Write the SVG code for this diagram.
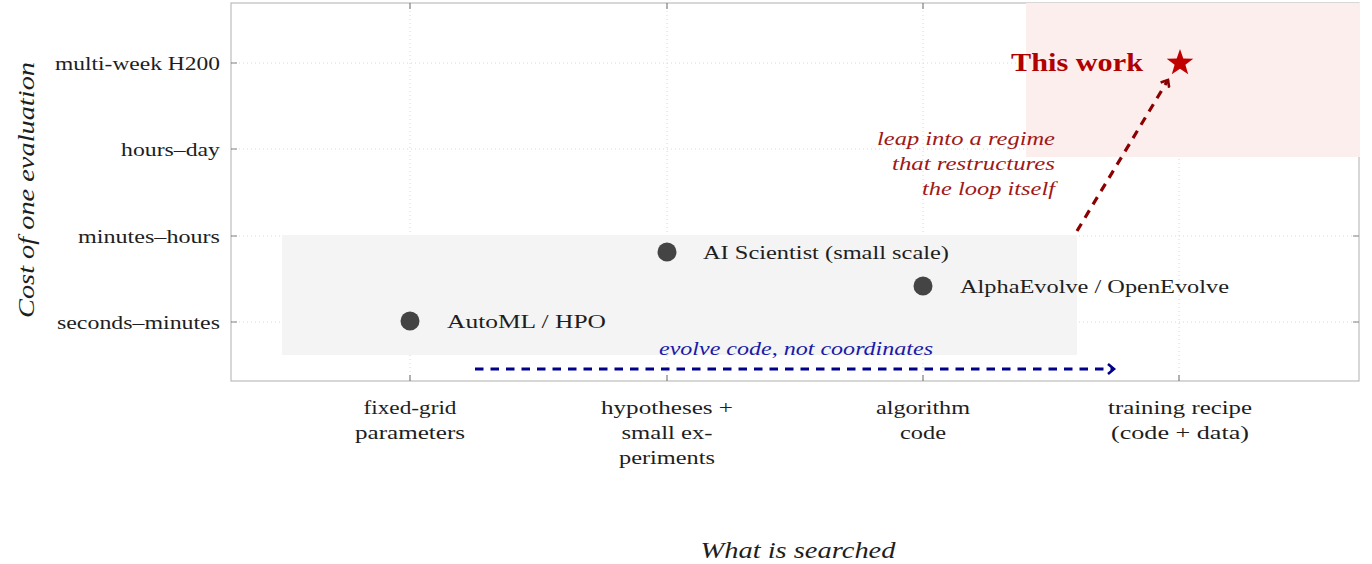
<svg xmlns="http://www.w3.org/2000/svg" width="1372" height="564" viewBox="0 0 1372 564">
<style>
text{font-family:"Liberation Serif","Times New Roman",serif;fill:#1e1e1e}
.tl{font-size:19px;text-anchor:end}
.xl{font-size:19px;text-anchor:middle}
.pl{font-size:19px}
.grid{stroke:#d8d8d8;stroke-width:1;stroke-dasharray:1 3;fill:none}
.tick{stroke:#808080;stroke-width:1.2}
.ann{font-size:18px;font-style:italic;fill:#a01818;text-anchor:end}
.dot{fill:#444}
</style>
<defs>
<marker id="ab" markerWidth="12" markerHeight="12" refX="9" refY="6" orient="auto" markerUnits="userSpaceOnUse"><path d="M3,1 L9,6 L3,11" fill="none" stroke="#00008b" stroke-width="2.6"/></marker>
<marker id="ar" markerWidth="12" markerHeight="12" refX="9" refY="6" orient="auto" markerUnits="userSpaceOnUse"><path d="M3,1 L9,6 L3,11" fill="none" stroke="#8b0000" stroke-width="2.6"/></marker>
</defs>
<rect width="1372" height="564" fill="#fff"/>
<g id="grid">
<line class="grid" x1="231" y1="63" x2="1359" y2="63"/>
<line class="grid" x1="231" y1="149" x2="1359" y2="149"/>
<line class="grid" x1="231" y1="236" x2="1359" y2="236"/>
<line class="grid" x1="231" y1="322" x2="1359" y2="322"/>
<line class="grid" x1="410" y1="3" x2="410" y2="381"/>
<line class="grid" x1="667" y1="3" x2="667" y2="381"/>
<line class="grid" x1="923" y1="3" x2="923" y2="381"/>
<line class="grid" x1="1179" y1="3" x2="1179" y2="381"/>
</g>
<g id="axes">
<rect x="231" y="3" width="1128" height="378" fill="none" stroke="#bdbdbd" stroke-width="1.2"/>
<path class="tick" d="M231,63h6M231,149h6M231,236h6M231,322h6M1359,63h-6M1359,149h-6M1359,236h-6M1359,322h-6M410,381v-6M667,381v-6M923,381v-6M1179,381v-6M410,3v6M667,3v6M923,3v6M1179,3v6"/>
</g>
<g id="regions">
<rect id="region-existing" x="282" y="235" width="795" height="120" fill="#f4f4f4"/>
<rect id="region-thiswork" x="1026" y="3" width="334" height="154" fill="#fdeeee"/>
</g>
<g id="ytick-labels">
<text class="tl" x="220" y="70" textLength="165" lengthAdjust="spacingAndGlyphs">multi-week H200</text>
<text class="tl" x="220" y="156" textLength="99" lengthAdjust="spacingAndGlyphs">hours–day</text>
<text class="tl" x="220" y="243" textLength="142" lengthAdjust="spacingAndGlyphs">minutes–hours</text>
<text class="tl" x="220" y="329" textLength="163" lengthAdjust="spacingAndGlyphs">seconds–minutes</text>
</g>
<g id="xtick-labels">
<text class="xl" x="410" y="414" textLength="93" lengthAdjust="spacingAndGlyphs">fixed-grid</text>
<text class="xl" x="410" y="439" textLength="110" lengthAdjust="spacingAndGlyphs">parameters</text>
<text class="xl" x="667" y="414" textLength="132" lengthAdjust="spacingAndGlyphs">hypotheses +</text>
<text class="xl" x="667" y="439" textLength="91" lengthAdjust="spacingAndGlyphs">small ex-</text>
<text class="xl" x="667" y="464" textLength="96" lengthAdjust="spacingAndGlyphs">periments</text>
<text class="xl" x="923" y="414" textLength="94" lengthAdjust="spacingAndGlyphs">algorithm</text>
<text class="xl" x="923" y="439" textLength="46" lengthAdjust="spacingAndGlyphs">code</text>
<text class="xl" x="1180" y="414" textLength="144" lengthAdjust="spacingAndGlyphs">training recipe</text>
<text class="xl" x="1180" y="439" textLength="138" lengthAdjust="spacingAndGlyphs">(code + data)</text>
</g>
<g id="axis-titles">
<text x="798" y="558" font-size="23" font-style="italic" text-anchor="middle" textLength="195" lengthAdjust="spacingAndGlyphs">What is searched</text>
<text transform="translate(34,190) rotate(-90)" font-size="23" font-style="italic" text-anchor="middle" textLength="256" lengthAdjust="spacingAndGlyphs">Cost of one evaluation</text>
</g>
<g id="node-automl">
<circle class="dot" cx="410" cy="321" r="9.5"/>
<text class="pl" x="447" y="328" textLength="159" lengthAdjust="spacingAndGlyphs">AutoML / HPO</text>
</g>
<g id="node-aiscientist">
<circle class="dot" cx="667" cy="252" r="9.5"/>
<text class="pl" x="703" y="259" textLength="246" lengthAdjust="spacingAndGlyphs">AI Scientist (small scale)</text>
</g>
<g id="node-alphaevolve">
<circle class="dot" cx="923" cy="286" r="9.5"/>
<text class="pl" x="960" y="293" textLength="269" lengthAdjust="spacingAndGlyphs">AlphaEvolve / OpenEvolve</text>
</g>
<g id="node-thiswork">
<path d="M1180,49 L1183.3,58.4 L1193.3,58.7 L1185.4,64.8 L1188.2,74.3 L1180,68.7 L1171.8,74.3 L1174.6,64.8 L1166.7,58.7 L1176.7,58.4 Z" fill="#c00000"/>
<text x="1143" y="71" font-size="25" font-weight="bold" style="fill:#b00000" text-anchor="end" textLength="132" lengthAdjust="spacingAndGlyphs">This work</text>
</g>
<g id="connectors">
<line x1="475" y1="369" x2="1114" y2="369" stroke="#00008b" stroke-width="3" stroke-dasharray="8.5 7" marker-end="url(#ab)"/>
<line x1="1077" y1="231" x2="1168" y2="80" stroke="#8b0000" stroke-width="3.2" stroke-dasharray="8.5 7" marker-end="url(#ar)"/>
</g>
<g id="labels">
<text x="796" y="355" font-size="18" font-style="italic" text-anchor="middle" style="fill:#1a1aa8" textLength="274" lengthAdjust="spacingAndGlyphs">evolve code, not coordinates</text>
<text class="ann" x="1055" y="145" textLength="178" lengthAdjust="spacingAndGlyphs">leap into a regime</text>
<text class="ann" x="1055" y="170" textLength="163" lengthAdjust="spacingAndGlyphs">that restructures</text>
<text class="ann" x="1055" y="195" textLength="133" lengthAdjust="spacingAndGlyphs">the loop itself</text>
</g>
</svg>
